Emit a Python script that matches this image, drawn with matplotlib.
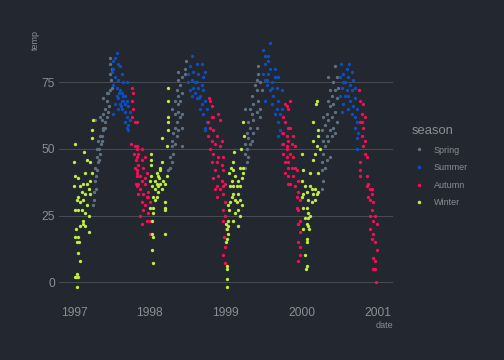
"""Chicago daily temperature 1997-2000, coloured by season (dark theme)."""
import matplotlib
matplotlib.use("Agg")
import matplotlib.pyplot as plt
import pandas as pd
from matplotlib.lines import Line2D

plt.rcParams["font.family"] = ["Liberation Sans", "DejaVu Sans"]

# (days since 1997-01-01, temp)
winter = [
    (5, 52), (1, 45), (5, 40), (1, 36), (48, 49), (93, 61), (88, 57), (85, 54), (64, 46), (77, 45),
    (53, 41), (45, 37), (61, 37), (77, 38), (21, 39), (29, 36), (74, 35), (85, 41), (37, 34), (53, 33),
    (77, 33), (21, 32), (45, 31), (13, 31), (29, 30), (61, 29), (5, 27), (21, 27), (37, 27), (53, 26),
    (74, 25), (45, 23), (42, 22), (29, 21), (53, 21), (10, 20), (74, 19), (5, 17), (21, 17), (13, 15),
    (26, 15), (21, 11), (29, 8), (13, 3), (10, 2), (21, 2), (16, -2), (5, 2),
    (371, 48), (371, 46), (371, 44), (371, 40), (366, 38), (374, 36), (382, 32), (390, 35), (398, 37),
    (406, 40), (414, 42), (422, 45), (414, 37), (422, 35), (438, 37), (446, 40), (390, 31), (382, 28),
    (366, 28), (382, 26), (374, 23), (382, 17), (374, 18), (374, 12), (382, 7), (438, 18), (438, 30),
    (438, 28), (438, 27), (422, 54), (446, 51), (454, 57), (454, 60), (451, 62), (454, 68), (451, 73),
    (398, 32), (406, 34), (430, 38), (414, 43), (398, 41), (392, 38), (402, 36), (410, 39),
    (731, 22), (735, 20), (743, 21), (735, 16), (743, 18), (731, 15), (738, 6), (738, 5), (735, 1),
    (735, -2), (743, 23), (748, 27), (751, 30), (743, 29), (759, 32), (767, 33), (751, 36), (759, 38),
    (748, 41), (767, 42), (754, 43), (775, 40), (783, 36), (791, 38), (799, 36), (807, 39), (815, 41),
    (799, 43), (815, 43), (791, 33), (799, 31), (807, 29), (783, 30), (775, 26), (791, 27), (799, 25),
    (767, 23), (791, 21), (775, 31), (767, 45), (804, 50), (770, 49), (815, 60), (818, 55), (767, 36),
    (1096, 48), (1104, 42), (1096, 38), (1112, 36), (1104, 33), (1096, 32), (1120, 34), (1128, 31),
    (1120, 28), (1104, 28), (1128, 26), (1112, 24), (1136, 25), (1120, 22), (1128, 21), (1104, 20),
    (1120, 16), (1120, 15), (1112, 10), (1120, 6), (1117, 5), (1136, 36), (1144, 35), (1152, 33),
    (1160, 35), (1168, 33), (1160, 31), (1144, 30), (1176, 34), (1176, 41), (1152, 46), (1160, 48),
    (1168, 51), (1152, 53), (1176, 55), (1184, 50), (1152, 60), (1176, 57), (1163, 67), (1168, 68),
    (1136, 41), (1124, 24), (1132, 20),
]
spring = [
    (93, 29), (96, 31), (98, 34), (106, 35), (101, 38), (106, 40), (109, 42), (101, 43), (117, 45),
    (109, 47), (125, 48), (122, 50), (128, 52), (133, 53), (117, 53), (125, 55), (133, 55), (141, 57),
    (138, 58), (150, 58), (149, 60), (101, 61), (125, 62), (133, 61), (141, 63), (157, 62), (165, 64),
    (170, 66), (149, 65), (141, 69), (157, 68), (165, 71), (173, 72), (181, 73), (176, 76), (173, 78),
    (173, 82), (173, 84), (181, 80), (157, 71), (112, 50), (120, 46),
    (454, 42), (462, 43), (470, 45), (462, 47), (478, 48), (470, 51), (518, 51), (486, 52), (473, 53),
    (494, 55), (478, 56), (502, 57), (486, 58), (518, 58), (494, 60), (510, 62), (486, 63), (502, 64),
    (470, 65), (518, 63), (502, 67), (510, 68), (486, 68), (502, 70), (518, 71), (494, 72), (510, 74),
    (502, 76), (518, 77), (502, 79), (534, 80), (537, 83), (534, 78),
    (823, 43), (831, 45), (823, 48), (839, 47), (831, 50), (847, 52), (823, 52), (839, 54), (855, 53),
    (831, 56), (863, 56), (847, 58), (879, 58), (839, 60), (863, 61), (895, 62), (855, 63), (879, 64),
    (823, 65), (847, 65), (895, 65), (863, 67), (887, 68), (855, 70), (879, 72), (903, 72), (871, 74),
    (895, 75), (879, 76), (887, 78), (887, 81),
    (1192, 35), (1200, 38), (1192, 42), (1208, 43), (1192, 45), (1216, 46), (1200, 48), (1208, 51),
    (1232, 47), (1224, 53), (1200, 53), (1240, 55), (1216, 55), (1256, 56), (1232, 57), (1192, 57),
    (1248, 58), (1208, 59), (1264, 60), (1224, 61), (1240, 62), (1200, 62), (1256, 64), (1216, 63),
    (1232, 66), (1248, 67), (1224, 68), (1264, 69), (1240, 70), (1256, 72), (1232, 72), (1272, 73),
    (1248, 75), (1224, 77), (1264, 77), (1256, 81),
]
summer = [
    (205, 86), (197, 84), (189, 83), (213, 82), (189, 80), (221, 81), (181, 79), (229, 78), (197, 77),
    (213, 76), (237, 75), (253, 75), (189, 74), (205, 73), (221, 72), (229, 71), (205, 70), (245, 70),
    (213, 69), (237, 68), (253, 68), (221, 67), (197, 67), (245, 67), (229, 65), (261, 66), (213, 65),
    (245, 64), (269, 64), (253, 62), (189, 63), (269, 61), (245, 60), (261, 59), (261, 57), (253, 58),
    (229, 68), (237, 70), (217, 71), (225, 66),
    (566, 85), (558, 81), (590, 82), (614, 82), (630, 79), (574, 79), (550, 78), (598, 78), (622, 77),
    (566, 76), (590, 75), (550, 75), (614, 74), (574, 73), (598, 73), (558, 72), (622, 72), (582, 71),
    (606, 70), (566, 70), (630, 68), (590, 69), (614, 67), (638, 65), (622, 63), (638, 60), (630, 57),
    (630, 58), (606, 65), (582, 75), (602, 69),
    (943, 90), (911, 87), (935, 85), (919, 85), (935, 83), (919, 82), (943, 80), (967, 80), (911, 78),
    (935, 78), (967, 77), (983, 77), (919, 76), (951, 75), (927, 74), (975, 73), (999, 72), (943, 72),
    (959, 70), (983, 68), (919, 68), (951, 67), (975, 65), (999, 65), (967, 63), (991, 63), (983, 60),
    (991, 57), (999, 56), (983, 55), (999, 52), (955, 73), (931, 76),
    (1285, 82), (1323, 82), (1312, 80), (1336, 79), (1296, 78), (1280, 77), (1320, 77), (1344, 76),
    (1296, 75), (1328, 74), (1352, 73), (1288, 73), (1312, 72), (1336, 72), (1280, 70), (1304, 70),
    (1352, 69), (1328, 68), (1296, 67), (1344, 66), (1320, 65), (1360, 65), (1288, 64), (1336, 63),
    (1352, 62), (1360, 60), (1352, 58), (1368, 56), (1360, 54), (1360, 50), (1304, 75), (1316, 70),
]
autumn = [
    (277, 73), (282, 71), (277, 68), (286, 65), (293, 60), (301, 60), (277, 62), (273, 52), (293, 51),
    (301, 51), (289, 48), (298, 46), (293, 43), (301, 42), (305, 40), (298, 37), (301, 50), (326, 50),
    (310, 48), (301, 47), (326, 46), (342, 47), (310, 44), (334, 43), (301, 41), (318, 40), (350, 41),
    (326, 38), (342, 37), (301, 36), (318, 35), (358, 34), (334, 33), (350, 32), (310, 33), (326, 30),
    (342, 29), (366, 30), (334, 27), (358, 26), (318, 25), (366, 23), (326, 22), (350, 23), (366, 18),
    (310, 37), (342, 39), (358, 32),
    (654, 68), (662, 66), (695, 63), (703, 61), (662, 62), (654, 58), (670, 57), (687, 55), (711, 53),
    (662, 53), (679, 52), (703, 51), (654, 50), (670, 48), (695, 47), (719, 47), (687, 45), (662, 45),
    (711, 44), (679, 42), (719, 42), (695, 40), (670, 39), (711, 38), (719, 36), (687, 36), (703, 35),
    (679, 35), (727, 37), (719, 33), (687, 32), (727, 30), (719, 27), (727, 25), (719, 23), (731, 20),
    (722, 17), (727, 13), (719, 10), (727, 7), (651, 69), (646, 60), (670, 62), (646, 55),
    (1015, 67), (1031, 65), (1007, 62), (1015, 60), (1031, 58), (1007, 56), (1023, 55), (1007, 52),
    (1027, 51), (1007, 48), (1023, 47), (1015, 45), (1031, 43), (1015, 41), (1031, 37), (1039, 68),
    (1023, 66), (1039, 58), (1056, 55), (1031, 53), (1047, 52), (1064, 51), (1023, 50), (1039, 48),
    (1056, 47), (1031, 45), (1064, 43), (1047, 43), (1072, 42), (1031, 40), (1056, 40), (1080, 38),
    (1039, 37), (1064, 36), (1080, 34), (1072, 32), (1088, 31), (1072, 28), (1080, 27), (1088, 23),
    (1080, 22), (1088, 19), (1080, 15), (1088, 13), (1080, 8), (1088, 10),
    (1372, 72), (1376, 68), (1392, 67), (1384, 63), (1400, 62), (1376, 60), (1392, 58), (1384, 55),
    (1400, 53), (1392, 51), (1400, 48), (1408, 47), (1376, 45), (1376, 42), (1376, 40), (1408, 40),
    (1416, 37), (1424, 35), (1432, 33), (1416, 32), (1424, 31), (1440, 30), (1432, 27), (1448, 25),
    (1424, 25), (1440, 23), (1456, 22), (1424, 20), (1440, 18), (1432, 16), (1448, 15), (1456, 12),
    (1440, 9), (1448, 8), (1448, 5), (1440, 5), (1452, 0), (1408, 36), (1432, 35), (1388, 60),
]

seasons = ["Spring", "Summer", "Autumn", "Winter"]
points = {"Spring": spring, "Summer": summer, "Autumn": autumn, "Winter": winter}
colors = {"Spring": "#5e7283", "Summer": "#0b4fc6", "Autumn": "#ff0a55", "Winter": "#c0f03a"}

BG = "#23272f"
GRID = "#474b54"
TXT = "#8a8d93"
start = pd.Timestamp("1997-01-01")

fig = plt.figure(figsize=(7, 5), dpi=72, facecolor=BG)
ax = fig.add_axes([0.1167, 0.1617, 0.6627, 0.7572], facecolor=BG)

for s in seasons:
    days = [d for d, _ in points[s]]
    temps = [t for _, t in points[s]]
    dates = start + pd.to_timedelta(days, unit="D")
    ax.scatter(dates, temps, s=11, color=colors[s], linewidths=0, zorder=3)

ax.set_xlim(start - pd.Timedelta(days=73), start + pd.Timedelta(days=1534))
ax.set_ylim(-7.4, 95.0)
years = [1997, 1998, 1999, 2000, 2001]
ax.set_xticks([pd.Timestamp(f"{y}-01-01") for y in years])
ax.set_xticklabels([str(y) for y in years])
ax.set_yticks([0, 25, 50, 75])
ax.tick_params(colors=TXT, labelsize=12, length=0, pad=4)
ax.tick_params(axis="x", pad=5)
ax.grid(axis="y", color=GRID, lw=1)
ax.set_axisbelow(True)
for sp in ax.spines.values():
    sp.set_visible(False)

fig.text(35 / 504, 1 - 30 / 360, "temp", rotation=90, ha="center", va="top", fontsize=9, color=TXT)
fig.text(393 / 504, 1 - 326 / 360, "date", ha="right", va="center", fontsize=9, color=TXT)

handles = [Line2D([], [], ls="", marker="o", ms=3.5, mec="none", color=colors[s]) for s in seasons]
leg = fig.legend(handles, seasons, loc="upper left", bbox_to_anchor=(404 / 504, 1 - 117 / 360),
                 frameon=False, title="season", title_fontsize=13, fontsize=9,
                 labelcolor=TXT, handletextpad=0.9, labelspacing=0.95, handlelength=1.5)
leg.get_title().set_color(TXT)
leg._legend_box.align = "left"

fig.savefig("out.png", dpi=72, facecolor=BG)
